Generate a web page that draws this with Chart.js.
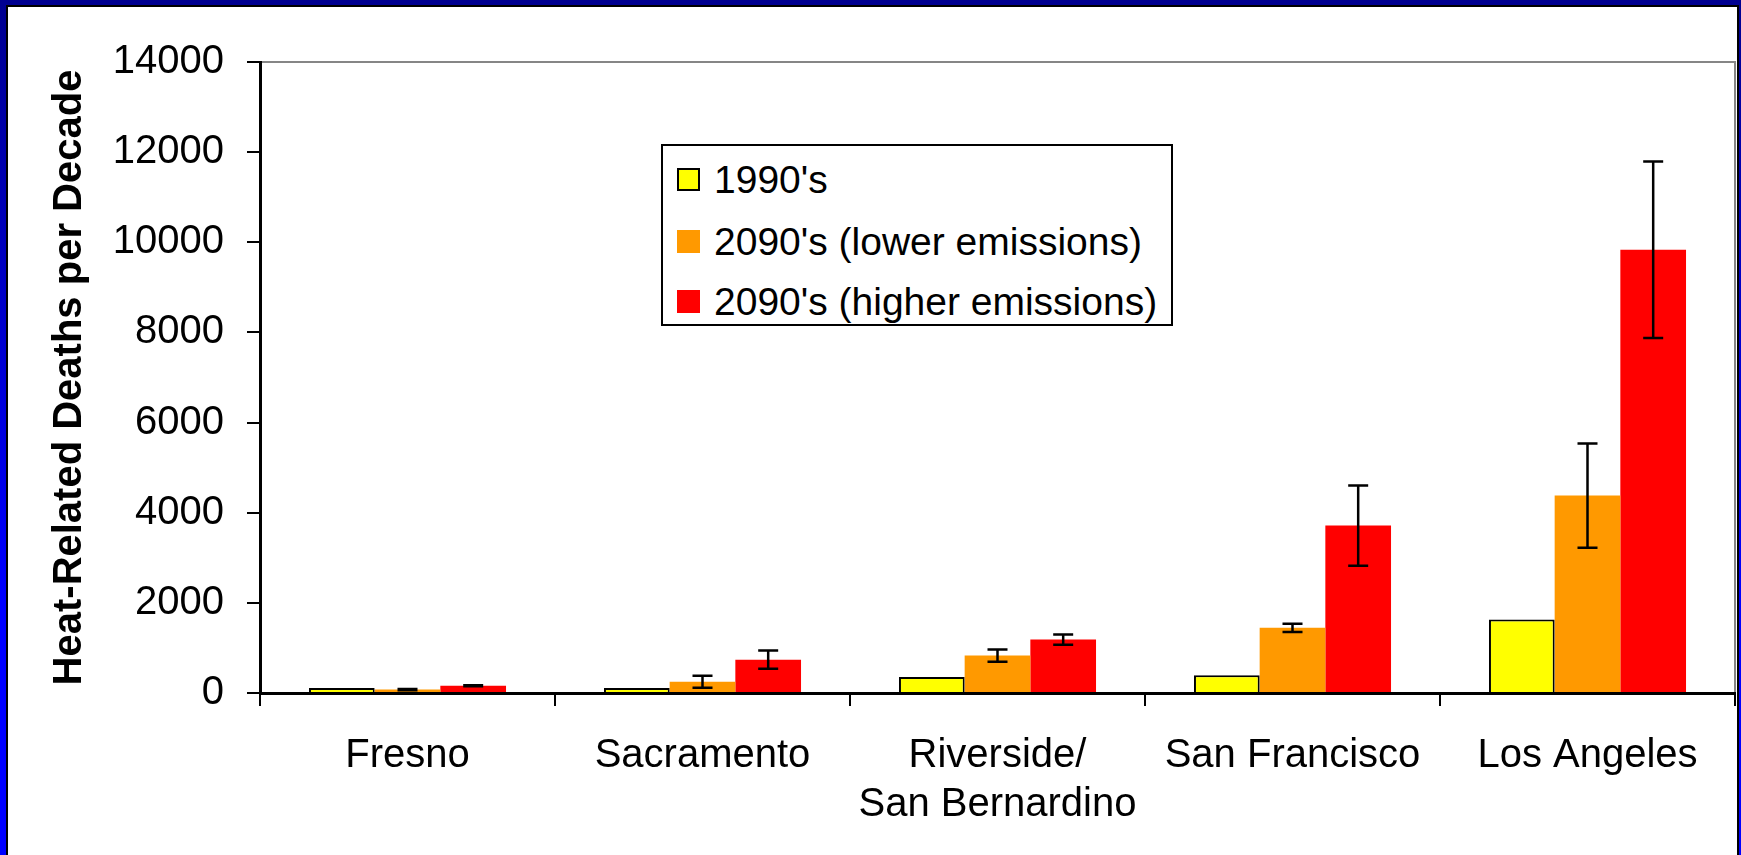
<!DOCTYPE html>
<html>
<head>
<meta charset="utf-8">
<script src="https://cdn.jsdelivr.net/npm/chart.js@4.4.1/dist/chart.umd.min.js"></script>
<style>
  html, body { margin: 0; padding: 0; }
  body {
    width: 1741px; height: 855px; overflow: hidden; position: relative;
    background: linear-gradient(to bottom, #000090 0%, #0000c8 35%, #0000ff 70%);
    font-family: 'Liberation Sans', Arial, sans-serif;
  }
  #frame {
    position: absolute; left: 6px; top: 5px; width: 1729px; height: 860px;
    border: 2px solid #000; background: #fff;
  }
  #wrap { position: absolute; left: 0; top: 0; width: 1741px; height: 855px; }
  #legendBox {
    position: absolute; left: 661px; top: 144px; width: 512px; height: 182px;
    box-sizing: border-box; border: 2px solid #000; background: #fff; z-index: 2;
  }
  .row { position: absolute; left: 14px; height: 40px; line-height: 40px; font-size: 39px; color: #000; white-space: nowrap; }
  .sw { position: absolute; left: 0; top: 8px; width: 23px; height: 23px; box-sizing: border-box; }
  .row span { position: absolute; left: 37px; top: 0; }
</style>
</head>
<body>
<div id="frame"></div>
<div id="wrap"><canvas id="grafico"></canvas></div>
<div id="legendBox"></div>
<script>
var cidades = ["Fresno", "Sacramento", ["Riverside/", "San Bernardino"], "San Francisco", "Los Angeles"];
var series = ["1990's", "2090's (lower emissions)", "2090's (higher emissions)"];
var mortes1990 = [110, 110, 355, 395, 1630];
var mortesBaixa = [75, 250, 830, 1445, 4380];
var mortesAlta = [160, 740, 1185, 3715, 9835];
var erroBaixa = [12, 135, 137, 92, 1155];
var erroAlta = [12, 203, 115, 890, 1960];
var cores = ["#ffff00", "#ff9900", "#ff0000"];

Chart.defaults.font.family = "'Liberation Sans', Arial, sans-serif";
Chart.defaults.color = "#000";

// moldura cinza da area do grafico
var moldura = {
  id: 'moldura',
  beforeDraw: function(chart) {
    var a = chart.chartArea, c = chart.ctx;
    c.save();
    c.strokeStyle = "#868686";
    c.lineWidth = 2;
    c.strokeRect(a.left, a.top, a.right - a.left, a.bottom - a.top);
    c.restore();
  }
};

// barras de erro
var barrasErro = {
  id: 'barrasErro',
  afterDatasetsDraw: function(chart) {
    var c = chart.ctx, y = chart.scales.y;
    chart.data.datasets.forEach(function(ds, d) {
      if (!ds.erros) return;
      var meta = chart.getDatasetMeta(d);
      meta.data.forEach(function(bar, i) {
        var v = ds.data[i], e = ds.erros[i];
        var y1 = y.getPixelForValue(v + e), y2 = y.getPixelForValue(v - e);
        c.save();
        c.strokeStyle = "#000";
        c.lineWidth = 2.5;
        c.beginPath();
        c.moveTo(bar.x, y1); c.lineTo(bar.x, y2);
        c.moveTo(bar.x - 10, y1); c.lineTo(bar.x + 10, y1);
        c.moveTo(bar.x - 10, y2); c.lineTo(bar.x + 10, y2);
        c.stroke();
        c.restore();
      });
    });
  }
};

var ctx = document.getElementById("grafico").getContext('2d');
var myChart = new Chart(ctx, {
  type: 'bar',
  data: {
    labels: cidades,
    datasets: [
      { label: series[0], data: mortes1990, backgroundColor: cores[0], borderColor: "#000", borderWidth: 2 },
      { label: series[1], data: mortesBaixa, backgroundColor: cores[1], borderWidth: 0, erros: erroBaixa },
      { label: series[2], data: mortesAlta, backgroundColor: cores[2], borderWidth: 0, erros: erroAlta }
    ]
  },
  options: {
    responsive: true,
    maintainAspectRatio: false,
    animation: false,
    datasets: { bar: { categoryPercentage: 0.668, barPercentage: 1.0 } },
    layout: { padding: { left: 0, top: 62, right: 6, bottom: 0 } },
    plugins: { legend: { display: false }, tooltip: { enabled: false } },
    scales: {
      x: {
        afterFit: function(s) { s.height = 162; },
        grid: { drawOnChartArea: false, color: "#000", lineWidth: 2, tickLength: 13, offset: true },
        border: { color: "#000", width: 3 },
        ticks: { font: { size: 40, lineHeight: 1.23 }, padding: 25, maxRotation: 0, autoSkip: false }
      },
      y: {
        min: 0, max: 14000,
        afterFit: function(s) { s.width = 260; },
        grid: { drawOnChartArea: false, color: "#000", lineWidth: 2, tickLength: 13 },
        border: { color: "#000", width: 3 },
        ticks: {
          stepSize: 2000, font: { size: 40 }, padding: 23,
          callback: function(v) { return String(v); }
        },
        title: { display: true, text: "Heat-Related Deaths per Decade", font: { size: 40, weight: 'bold' }, padding: { top: 46, bottom: 0 } }
      }
    }
  },
  plugins: [moldura, barrasErro]
});

// legenda em html
var centros = [34, 96, 156];
var caixa = document.getElementById("legendBox");
myChart.data.datasets.forEach(function(ds, i) {
  var row = document.createElement("div");
  row.className = "row";
  row.style.top = (centros[i] - 20) + "px";
  var sw = document.createElement("div");
  sw.className = "sw";
  sw.style.background = ds.backgroundColor;
  if (i === 0) sw.style.border = "2px solid #000";
  var t = document.createElement("span");
  t.textContent = ds.label;
  row.appendChild(sw);
  row.appendChild(t);
  caixa.appendChild(row);
});
</script>
</body>
</html>
